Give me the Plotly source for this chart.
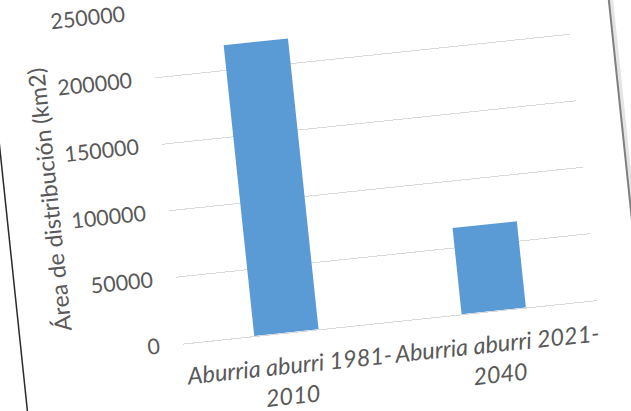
import plotly.graph_objects as go

# ---- data ----
categories = ["Aburria aburri 1981-<br>2010", "Aburria aburri 2021-<br>2040"]
areas_km2 = [219000, 65000]
y_tick_values = [0, 50000, 100000, 150000, 200000, 250000]
y_title = "Área de distribución (km2)"

# ---- geometry (unrotated page frame) ----
W, H = 690, 490          # figure size (larger than window; rotated into view)
OFF_X, OFF_Y = -30, -40  # div position on page
ANGLE = -6               # photographed page is tilted
M_L, M_R, M_T, M_B = 199, 74, 35, 121
plot_w = W - M_L - M_R
plot_h = H - M_T - M_B

def px_to_paper_x(ux):
    return (ux - OFF_X - M_L) / plot_w

def px_to_paper_y(uy):
    return (H - M_B - (uy - OFF_Y)) / plot_h

TEXT = "#595959"
FONT = "Lato"

fig = go.Figure(go.Bar(
    x=categories, y=areas_km2,
    marker=dict(color="#5b9bd5", line=dict(width=0)),
))

fig.update_layout(
    width=W, height=H,
    margin=dict(l=M_L, r=M_R, t=M_T, b=M_B, pad=0),
    paper_bgcolor="white", plot_bgcolor="white",
    bargap=0.69,
    showlegend=False,
    font=dict(family=FONT, color=TEXT),
)
fig.update_yaxes(
    range=[0, 250000], tickvals=y_tick_values, tickformat="d",
    showgrid=True, gridcolor="#d9d9d9", gridwidth=1,
    zeroline=False, showline=False, ticks="",
    tickfont=dict(family=FONT, size=21.5, color=TEXT),
    ticklabelstandoff=22,
)
fig.update_xaxes(
    showgrid=False, zeroline=False,
    showline=True, linecolor="#d9d9d9", linewidth=1,
    ticks="", tickfont=dict(family=FONT, size=23.5, color=TEXT, style="italic"),
    ticklabelstandoff=12,
)

fig.add_annotation(
    text=y_title, textangle=-90, showarrow=False,
    xref="paper", yref="paper",
    x=px_to_paper_x(51), y=px_to_paper_y(172),
    xanchor="center", yanchor="middle",
    font=dict(family=FONT, size=23, color=TEXT),
)

# chart-area border edges seen in the photo
fig.add_shape(type="line", xref="paper", yref="paper",
              x0=px_to_paper_x(7.5), x1=px_to_paper_x(7.5), y0=-0.6, y1=1.6,
              line=dict(color="#2b2b2b", width=1.5))
fig.add_shape(type="line", xref="paper", yref="paper",
              x0=px_to_paper_x(631), x1=px_to_paper_x(631), y0=-0.6, y1=1.6,
              line=dict(color="#e4e4e4", width=4))
fig.add_shape(type="line", xref="paper", yref="paper",
              x0=px_to_paper_x(628.7), x1=px_to_paper_x(628.7), y0=-0.6, y1=1.6,
              line=dict(color="#7f7f7f", width=2))

cx = 315.5 - OFF_X
cy = 205.5 - OFF_Y
post = f"""
var gd = document.getElementById('{{plot_id}}');
document.documentElement.style.overflow = 'hidden';
document.body.style.margin = '0';
document.body.style.overflow = 'hidden';
gd.style.position = 'absolute';
gd.style.left = '{OFF_X}px';
gd.style.top = '{OFF_Y}px';
gd.style.transformOrigin = '{cx}px {cy}px';
gd.style.transform = 'rotate({ANGLE}deg)';
"""

fig.write_html("out.html", post_script=post, config={"displayModeBar": False})
